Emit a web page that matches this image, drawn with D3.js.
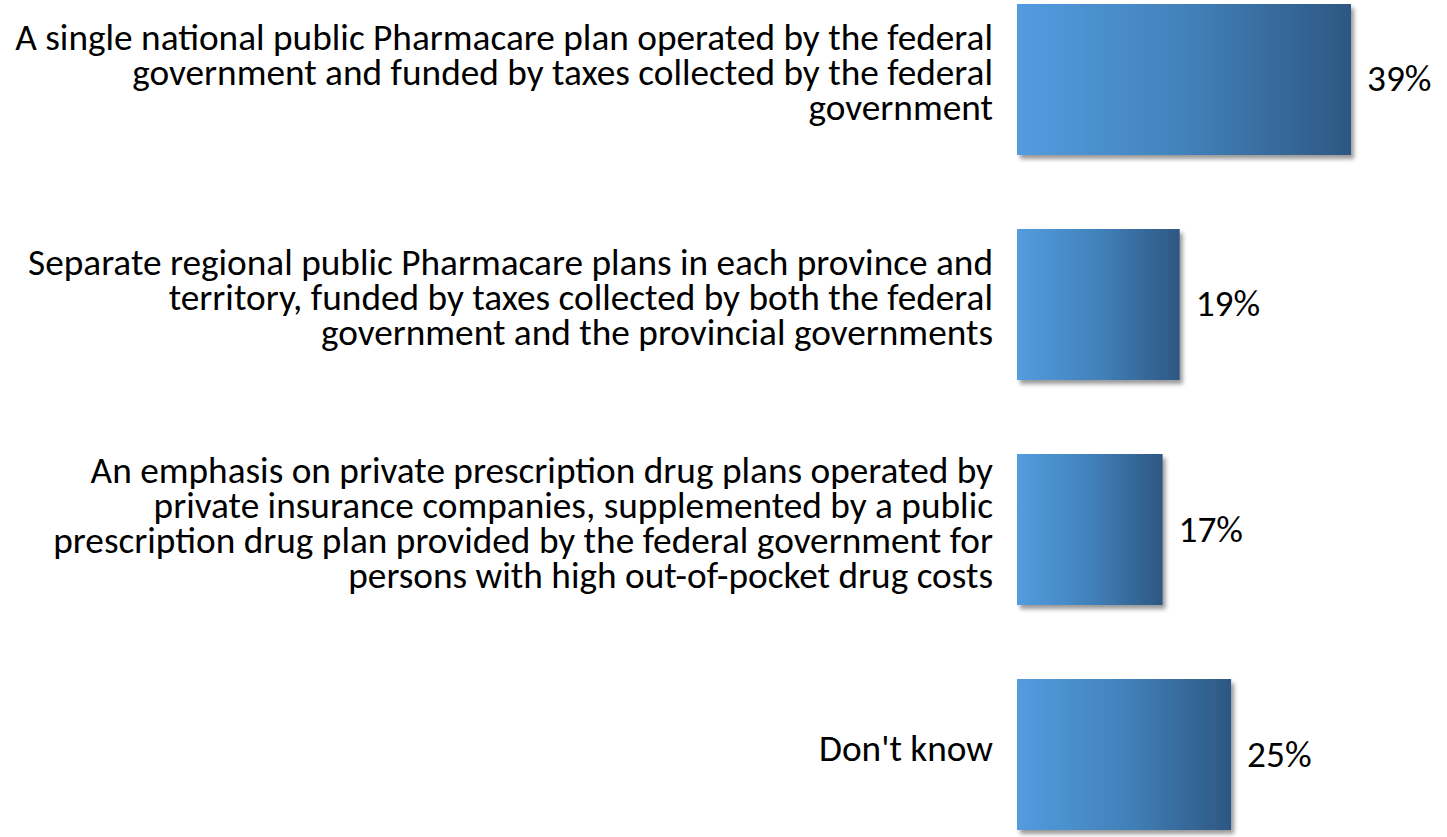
<!DOCTYPE html>
<html>
<head>
<meta charset="utf-8">
<script src="https://cdn.jsdelivr.net/npm/d3@7"></script>
<style>
  html, body { margin: 0; padding: 0; background: #ffffff; }
  svg { display: block; }
</style>
</head>
<body>
<svg id="chart" width="1447" height="837"></svg>
<script>
// ---- data ----
const categories = ["single", "regional", "private", "dontknow"];
const labelLines = [
  ["A single national public Pharmacare plan operated by the federal",
   "government and funded by taxes collected by the federal",
   "government"],
  ["Separate regional public Pharmacare plans in each province and",
   "territory, funded by taxes collected by both the federal",
   "government and the provincial governments"],
  ["An emphasis on private prescription drug plans operated by",
   "private insurance companies, supplemented by a public",
   "prescription drug plan provided by the federal government for",
   "persons with high out-of-pocket drug costs"],
  ["Don't know"]
];
const values = [39, 19, 17, 25];

// ---- layout ----
const W = 1447, H = 837;
const fontFamily = "Carlito, Lato, 'Open Sans', sans-serif";
const svg = d3.select("#chart");

const x = d3.scaleLinear().domain([0, 100]).range([1017, 1017 + 856.4]);
const y = d3.scaleBand().domain(categories).range([4, 830]).paddingInner(0.329).paddingOuter(0);

const defs = svg.append("defs");
const grad = defs.append("linearGradient").attr("id", "barGrad")
  .attr("x1", "0%").attr("x2", "100%").attr("y1", "0%").attr("y2", "0%");
grad.append("stop").attr("offset", "0%").attr("stop-color", "#539cdf");
grad.append("stop").attr("offset", "50%").attr("stop-color", "#4282bb");
grad.append("stop").attr("offset", "100%").attr("stop-color", "#2d5782");

const f = defs.append("filter").attr("id", "shadow")
  .attr("x", "-10%").attr("y", "-10%").attr("width", "130%").attr("height", "130%");
f.append("feDropShadow").attr("dx", 3).attr("dy", 4).attr("stdDeviation", 2.2)
  .attr("flood-color", "#000").attr("flood-opacity", 0.4);

// bars
svg.append("g").selectAll("rect").data(categories).join("rect")
  .attr("x", x(0))
  .attr("y", d => y(d))
  .attr("width", (d, i) => x(values[i]) - x(0))
  .attr("height", y.bandwidth())
  .attr("fill", "url(#barGrad)")
  .attr("filter", "url(#shadow)");

// fit font size so the longest line matches reference width
const probe = svg.append("text").attr("font-family", fontFamily).attr("font-size", 30)
  .text(labelLines[0][0]);
const w30 = probe.node().getComputedTextLength();
probe.remove();
const fontSize = Math.min(40, 30 * 978 / w30);
const lineH = 35;

// category labels
const lg = svg.append("g").attr("font-family", fontFamily).attr("font-size", fontSize)
  .attr("fill", "#000").attr("text-anchor", "end");
categories.forEach((c, i) => {
  const lines = labelLines[i];
  const cy = y(c) + y.bandwidth() / 2;
  const n = lines.length;
  const t = lg.append("text");
  lines.forEach((ln, j) => {
    t.append("tspan").attr("x", 993)
      .attr("y", cy + 6 + (j - (n - 1) / 2) * lineH)
      .text(ln);
  });
});

// value labels
svg.append("g").attr("font-family", fontFamily).attr("font-size", fontSize)
  .attr("fill", "#000")
  .selectAll("text").data(categories).join("text")
  .attr("x", (d, i) => x(values[i]) + 16)
  .attr("y", d => y(d) + y.bandwidth() / 2 + 12)
  .text((d, i) => values[i] + "%");
</script>
</body>
</html>
